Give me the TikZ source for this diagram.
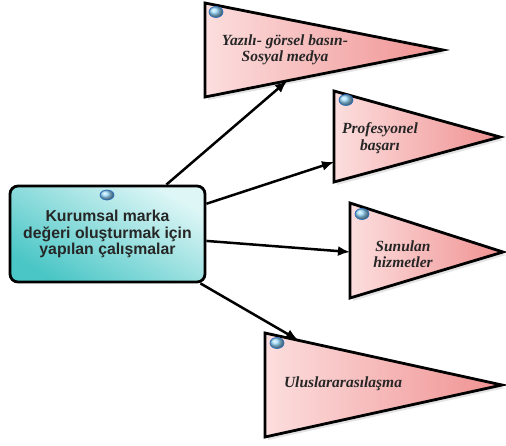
\documentclass[tikz,border=0pt]{standalone}
\usepackage{fontspec}
\setmainfont{Liberation Serif}
\setsansfont{Liberation Sans}
\usetikzlibrary{shadows,arrows.meta,calc}
\definecolor{pinkR}{RGB}{240,145,145}
\definecolor{pinkL}{RGB}{252,222,222}
\definecolor{tealD}{RGB}{75,198,198}
\definecolor{tealL}{RGB}{222,246,246}
\definecolor{bubble}{RGB}{150,215,250}
\definecolor{bubedge}{RGB}{40,110,190}
\begin{document}
\begin{tikzpicture}[x=1pt,y=-1pt,
  tri/.style={draw=black,line width=2.8pt,line join=miter,left color=pinkL,right color=pinkR,
    drop shadow={opacity=0.22,shadow xshift=3pt,shadow yshift=-3pt}},
  tritext/.style={font=\fontsize{15.5}{16.5}\selectfont\bfseries\itshape,align=center,text=black!85},
  mainbox/.style={draw=black,line width=2.8pt,rounded corners=8pt,minimum width=195pt,minimum height=96pt,
    top color=tealL,bottom color=tealD,shading angle=-30,
    font=\sffamily\bfseries\fontsize{15.8}{16.5}\selectfont,align=center,text=black!85},
  bub/.style={ball color=bubble,draw=bubedge,line width=0.7pt},
  conn/.style={line width=2.5pt,-{Latex[length=12pt,width=10pt]}}]
\useasboundingbox (0,0) rectangle (506,445);
% triangles
\coordinate (t1a) at (205,3); \coordinate (t1b) at (205,97); \coordinate (t1c) at (443,50);
\coordinate (t2a) at (334,91); \coordinate (t2b) at (334,182); \coordinate (t2c) at (500,137);
\coordinate (t3a) at (350,203); \coordinate (t3b) at (350,298); \coordinate (t3c) at (503,252);
\coordinate (t4a) at (265,333); \coordinate (t4b) at (265,437); \coordinate (t4c) at (502,385);
\path[tri] (t1a) -- (t1c) -- (t1b) -- cycle;
\path[tri] (t2a) -- (t2c) -- (t2b) -- cycle;
\path[tri] (t3a) -- (t3c) -- (t3b) -- cycle;
\path[tri] (t4a) -- (t4c) -- (t4b) -- cycle;
\shade[bub] (216,12) ellipse (7pt and 5.5pt);
\shade[bub] (346,100) ellipse (7pt and 5.5pt);
\shade[bub] (362,214) ellipse (7pt and 5.5pt);
\shade[bub] (277,343) ellipse (7pt and 5.5pt);
\node[tritext] (l1) at (285,50) {Yazılı- görsel basın-\\Sosyal medya};
\node[tritext] (l2) at (380,138) {Profesyonel\\başarı};
\node[tritext] (l3) at (403,254) {Sunulan\\hizmetler};
\node[tritext] (l4) at (343,384) {Uluslararasılaşma};
% main box
\node[mainbox] (main) at (107.5,234) {Kurumsal marka\\değeri oluşturmak için\\yapılan çalışmalar};
\shade[bub] (107,195) ellipse (7pt and 5pt);
% arrow ends
\coordinate (e1) at (287,81);
\coordinate (e2) at (334,162);
\coordinate (e3) at (350,252);
\coordinate (e4) at (298,340);
\draw[conn] (main.40) -- (e1);
\draw[conn] (main.17.6) -- (e2);
\draw[conn] (main.-4) -- (e3);
\draw[conn] (main.-28) -- (e4);
\end{tikzpicture}
\end{document}
